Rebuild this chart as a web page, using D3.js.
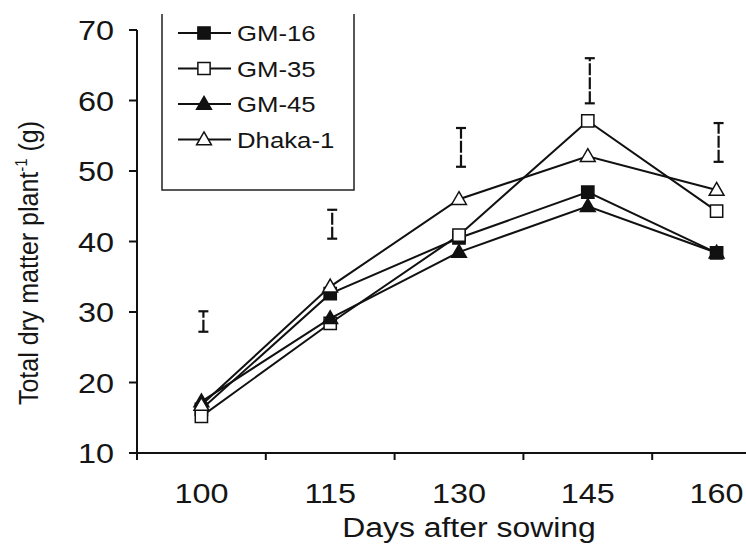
<!DOCTYPE html>
<html>
<head>
<meta charset="utf-8">
<script src="https://cdn.jsdelivr.net/npm/d3@7"></script>
<style>
  body { margin: 0; background: #fff; }
  svg { display: block; overflow: hidden; }
  text { font-family: 'Liberation Sans', Arial, sans-serif; fill: #151515; }
</style>
</head>
<body>
<div id="chart"></div>
<script>
// days after sowing
const days = ['100', '115', '130', '145', '160']

const gm16 = [16.2, 32.6, 40.5, 47.0, 38.4]
const gm35 = [15.2, 28.4, 40.9, 57.1, 44.3]
const gm45 = [17.3, 29.1, 38.5, 45.0, 38.4]
const dhaka1 = [16.8, 33.6, 46.0, 52.1, 47.3]

// LSD bars
const barLow = [27.2, 40.4, 50.6, 59.6, 51.3]
const barHigh = [30.1, 44.5, 56.1, 66.0, 56.8]

const yTicks = [10, 20, 30, 40, 50, 60, 70]

const series = [
  { name: 'GM-16', values: gm16, shape: 'square', fill: '#111' },
  { name: 'GM-35', values: gm35, shape: 'square', fill: '#fff' },
  { name: 'GM-45', values: gm45, shape: 'triangle', fill: '#111' },
  { name: 'Dhaka-1', values: dhaka1, shape: 'triangle', fill: '#fff' }
]

const width = 746
const height = 545
const stretch = 1.12 // the scanned text is a bit wide
const tickStretch = 1.2

const svg = d3
  .select('#chart')
  .append('svg')
  .attr('width', width)
  .attr('height', height)

const x = d3.scaleBand().domain(days).range([137, 781])
const y = d3.scaleLinear().domain([10, 70]).range([453, 30])
const cx = d => x(d) + x.bandwidth() / 2

const symbol = shape =>
  shape === 'square'
    ? d3.symbol().type(d3.symbolSquare).size(150)
    : d3.symbol().type(d3.symbolTriangle).size(95)

// axes
svg.append('line')
  .attr('x1', x.range()[0]).attr('x2', x.range()[1])
  .attr('y1', y(10)).attr('y2', y(10))
  .attr('stroke', '#111').attr('stroke-width', 2)

svg.append('line')
  .attr('x1', x.range()[0]).attr('x2', x.range()[0])
  .attr('y1', y(10)).attr('y2', y(70))
  .attr('stroke', '#111').attr('stroke-width', 2)

svg.selectAll('.ytick')
  .data(yTicks)
  .enter()
  .append('line')
  .attr('class', 'ytick')
  .attr('x1', x.range()[0] - 8).attr('x2', x.range()[0])
  .attr('y1', d => y(d)).attr('y2', d => y(d))
  .attr('stroke', '#111').attr('stroke-width', 2)

svg.selectAll('.xtick')
  .data(days)
  .enter()
  .append('line')
  .attr('class', 'xtick')
  .attr('x1', d => x(d)).attr('x2', d => x(d))
  .attr('y1', y(10)).attr('y2', y(10) + 7)
  .attr('stroke', '#111').attr('stroke-width', 2)

svg.selectAll('.ylabel')
  .data(yTicks)
  .enter()
  .append('text')
  .attr('class', 'ylabel')
  .attr('text-anchor', 'end')
  .attr('font-size', 27)
  .attr('transform', d => `translate(114,${y(d) + 10}) scale(${tickStretch},1)`)
  .text(d => d)

svg.selectAll('.xlabel')
  .data(days)
  .enter()
  .append('text')
  .attr('class', 'xlabel')
  .attr('text-anchor', 'middle')
  .attr('font-size', 27)
  .attr('transform', d => `translate(${cx(d)},503) scale(${tickStretch},1)`)
  .text(d => d)

svg.append('text')
  .attr('text-anchor', 'middle')
  .attr('font-size', 28)
  .attr('transform', `translate(469,537) scale(1.14,1)`)
  .text('Days after sowing')

const ytitle = svg.append('text')
  .attr('text-anchor', 'middle')
  .attr('font-size', 25)
  .attr('transform', `translate(38,263) scale(${stretch},1) rotate(-90)`)
ytitle.append('tspan').text('Total dry matter plant')
ytitle.append('tspan').attr('font-size', 15).attr('dy', -10).text('-1')
ytitle.append('tspan').attr('dy', 10).text(' (g)')

// LSD bars
const bars = svg.append('g')
days.forEach((d, i) => {
  const bx = cx(d) + 2
  bars.append('line')
    .attr('x1', bx).attr('x2', bx)
    .attr('y1', y(barLow[i])).attr('y2', y(barHigh[i]))
    .attr('stroke', '#111').attr('stroke-width', 2.2)
    .attr('stroke-dasharray', '12,2')
  ;[barLow[i], barHigh[i]].forEach(v => {
    bars.append('line')
      .attr('x1', bx - 5).attr('x2', bx + 5)
      .attr('y1', y(v)).attr('y2', y(v))
      .attr('stroke', '#111').attr('stroke-width', 2.2)
  })
})

// lines + markers
const line = d3.line().x((v, i) => cx(days[i])).y(v => y(v))

series.forEach(s => {
  svg.append('path')
    .attr('d', line(s.values))
    .attr('fill', 'none')
    .attr('stroke', '#111')
    .attr('stroke-width', 2)

  svg.selectAll(null)
    .data(s.values)
    .enter()
    .append('path')
    .attr('d', symbol(s.shape))
    .attr('transform', (v, i) => `translate(${cx(days[i])},${y(v) + (s.shape === 'triangle' ? 1 : 0)})`)
    .attr('fill', s.fill)
    .attr('stroke', '#111')
    .attr('stroke-width', 1.5)
})

// legend (top border is off the page)
const legend = svg.append('g')
legend.append('path')
  .attr('d', 'M162,14V190H354V14')
  .attr('fill', 'none')
  .attr('stroke', '#222')
  .attr('stroke-width', 1.5)

series.forEach((s, i) => {
  const ly = 33 + i * 35.5
  legend.append('line')
    .attr('x1', 178).attr('x2', 231)
    .attr('y1', ly).attr('y2', ly)
    .attr('stroke', '#111').attr('stroke-width', 2)
  legend.append('path')
    .attr('d', symbol(s.shape)())
    .attr('transform', `translate(204,${ly + (s.shape === 'triangle' ? 1 : 0)})`)
    .attr('fill', s.fill)
    .attr('stroke', '#111')
    .attr('stroke-width', 1.5)
  legend.append('text')
    .attr('font-size', 23)
    .attr('transform', `translate(237,${ly + 8}) scale(${stretch},1)`)
    .text(s.name)
})
</script>
</body>
</html>
